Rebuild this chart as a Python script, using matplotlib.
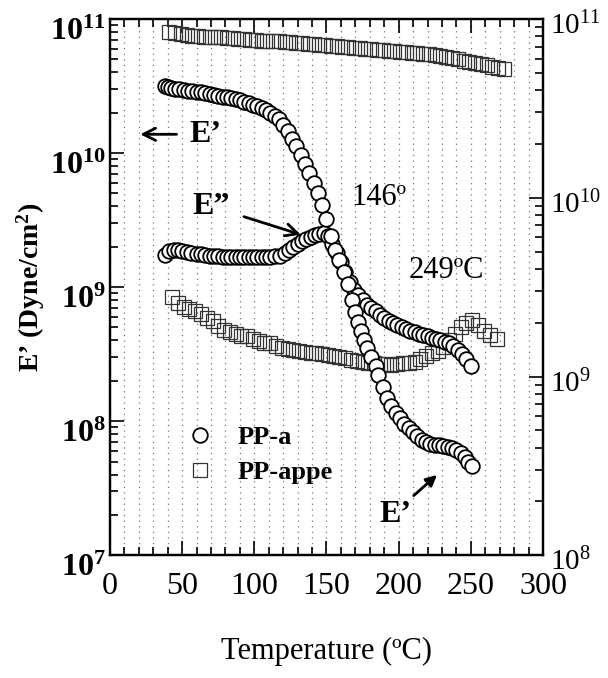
"""
Dynamic modulus E' / E'' vs temperature for PP-a and PP-appe (scanned figure remake).
"""
import math
import matplotlib
matplotlib.use("Agg")
import matplotlib.pyplot as plt
import matplotlib.lines as mlines
from matplotlib.ticker import LogLocator, FuncFormatter, MultipleLocator, NullFormatter
from matplotlib.transforms import ScaledTranslation

plt.rcParams["font.family"] = ["Liberation Serif", "DejaVu Serif"]
plt.rcParams["mathtext.fontset"] = "custom"
plt.rcParams["mathtext.rm"] = "Liberation Serif"
plt.rcParams["mathtext.bf"] = "Liberation Serif:bold"
plt.rcParams["mathtext.it"] = "Liberation Serif:italic"

# -- data -----------------------------------------------------------------------
ppa_e1_T = [38, 40, 42, 45, 48, 51, 54, 57, 60, 63, 66, 69, 72, 75, 78, 81, 84, 87,
            90, 93, 96, 99, 102, 105, 108, 111, 114, 117, 120, 123, 126, 129, 132,
            135, 138, 141, 144, 147, 150, 153, 156, 159, 162, 165, 168, 170, 172,
            174, 176, 178, 181, 184, 186, 189, 192, 195, 198, 201, 204, 207, 210,
            213, 216, 219, 222, 225, 228, 231, 234, 237, 240, 243, 246, 248, 251]
ppa_e1 = [3.15e10, 3.1e10, 3.05e10, 3.0e10, 2.98e10, 2.95e10, 2.92e10, 2.9e10,
          2.87e10, 2.83e10, 2.8e10, 2.76e10, 2.72e10, 2.68e10, 2.63e10, 2.6e10,
          2.56e10, 2.52e10, 2.47e10, 2.42e10, 2.37e10, 2.3e10, 2.24e10, 2.17e10,
          2.1e10, 2.0e10, 1.9e10, 1.78e10, 1.62e10, 1.45e10, 1.28e10, 1.12e10,
          9.6e9, 8.3e9, 7.1e9, 6.0e9, 5.0e9, 4.1e9, 3.2e9, 2.4e9, 1.9e9, 1.6e9,
          1.3e9, 1.05e9, 8.0e8, 6.5e8, 5.5e8, 4.7e8, 4.0e8, 3.5e8, 3.0e8, 2.6e8,
          2.2e8, 1.8e8, 1.5e8, 1.3e8, 1.15e8, 1.05e8, 9.6e7, 8.9e7, 8.3e7, 7.8e7,
          7.3e7, 7.0e7, 6.8e7, 6.7e7, 6.6e7, 6.5e7, 6.4e7, 6.3e7, 6.1e7, 5.8e7,
          5.4e7, 5.0e7, 4.6e7]

ppa_e2_T = [38, 41, 44, 47, 50, 53, 56, 60, 63, 66, 69, 72, 75, 78, 81, 84, 87, 90,
            93, 96, 99, 102, 105, 108, 111, 114, 118, 121, 124, 127, 130, 133, 136,
            139, 142, 145, 148, 151, 154, 157, 160, 163, 166, 169, 172, 175, 178,
            181, 184, 187, 190, 193, 196, 199, 202, 205, 208, 211, 214, 217, 220,
            223, 226, 229, 232, 235, 238, 241, 244, 247, 250]
ppa_e2 = [1.75e9, 1.85e9, 1.9e9, 1.88e9, 1.85e9, 1.82e9, 1.8e9, 1.78e9, 1.76e9,
          1.74e9, 1.72e9, 1.71e9, 1.7e9, 1.69e9, 1.68e9, 1.68e9, 1.67e9, 1.67e9,
          1.67e9, 1.67e9, 1.67e9, 1.67e9, 1.68e9, 1.68e9, 1.69e9, 1.7e9, 1.72e9,
          1.8e9, 1.9e9, 2.0e9, 2.1e9, 2.2e9, 2.3e9, 2.38e9, 2.45e9, 2.5e9, 2.55e9,
          2.4e9, 2.1e9, 1.8e9, 1.55e9, 1.3e9, 1.1e9, 9.6e8, 8.7e8, 8.0e8, 7.4e8,
          7.0e8, 6.6e8, 6.2e8, 5.9e8, 5.6e8, 5.4e8, 5.2e8, 5.0e8, 4.85e8, 4.7e8,
          4.6e8, 4.5e8, 4.4e8, 4.3e8, 4.2e8, 4.1e8, 4.0e8, 3.9e8, 3.8e8, 3.65e8,
          3.4e8, 3.15e8, 2.9e8, 2.6e8]

appe_e1_T = [41, 45, 49, 53, 57, 61, 65, 69, 73, 77, 81, 85, 89, 93, 97, 101, 105,
             109, 113, 117, 121, 125, 129, 133, 137, 141, 145, 149, 153, 157, 161,
             165, 169, 173, 177, 181, 185, 189, 193, 197, 201, 205, 209, 213, 217,
             221, 225, 229, 233, 237, 241, 245, 249, 253, 257, 261, 265, 269, 273]
appe_e1 = [8.0e10, 7.8e10, 7.7e10, 7.6e10, 7.5e10, 7.5e10, 7.4e10, 7.4e10, 7.3e10,
           7.3e10, 7.2e10, 7.2e10, 7.1e10, 7.1e10, 7.0e10, 7.0e10, 6.9e10, 6.9e10,
           6.8e10, 6.8e10, 6.7e10, 6.7e10, 6.6e10, 6.6e10, 6.5e10, 6.5e10, 6.4e10,
           6.4e10, 6.3e10, 6.3e10, 6.2e10, 6.2e10, 6.1e10, 6.1e10, 6.0e10, 6.0e10,
           5.9e10, 5.9e10, 5.8e10, 5.8e10, 5.7e10, 5.7e10, 5.6e10, 5.6e10, 5.5e10,
           5.5e10, 5.4e10, 5.3e10, 5.2e10, 5.1e10, 5.0e10, 4.9e10, 4.8e10, 4.7e10,
           4.6e10, 4.5e10, 4.4e10, 4.3e10, 4.2e10]

appe_e2_T = [43, 47, 51, 55, 59, 63, 67, 71, 75, 79, 83, 87, 91, 95, 99, 103, 107,
             111, 115, 119, 123, 127, 131, 135, 139, 143, 147, 151, 155, 159, 163,
             167, 171, 175, 179, 183, 187, 191, 195, 199, 203, 207, 211, 215, 219,
             223, 227, 231, 235, 239, 243, 247, 251, 255, 259, 263, 268]
appe_e2 = [8.5e8, 7.6e8, 7.1e8, 6.9e8, 6.6e8, 6.3e8, 5.9e8, 5.6e8, 5.1e8, 4.8e8,
           4.6e8, 4.45e8, 4.35e8, 4.3e8, 4.1e8, 3.95e8, 3.85e8, 3.8e8, 3.65e8,
           3.5e8, 3.45e8, 3.4e8, 3.35e8, 3.3e8, 3.2e8, 3.2e8, 3.15e8, 3.1e8, 3.05e8,
           3.0e8, 2.95e8, 2.85e8, 2.8e8, 2.75e8, 2.72e8, 2.7e8, 2.68e8, 2.65e8,
           2.62e8, 2.65e8, 2.7e8, 2.72e8, 2.78e8, 2.9e8, 3.05e8, 3.2e8, 3.35e8,
           3.6e8, 4.0e8, 4.5e8, 5.0e8, 5.4e8, 5.7e8, 5.2e8, 4.7e8, 4.4e8, 4.1e8]

# -- plot ----------------------------------------------------------------------
fig = plt.figure(figsize=(6.08, 6.78), dpi=100)
ax = fig.add_axes([0.181, 0.181, 0.712, 0.791])
ax.set_xlim(0, 300)
ax.set_yscale("log")
ax.set_ylim(1e7, 1e11)

circ = dict(marker="o", linestyle="None", markersize=10.5, markerfacecolor="white",
            markeredgecolor="black", markeredgewidth=1.3)
sq = dict(marker="s", linestyle="None", markersize=10, markerfacecolor="none",
          markeredgecolor="#333333", markeredgewidth=0.9)

ax.plot(appe_e1_T, appe_e1, zorder=3, **sq)
ax.plot(appe_e2_T, appe_e2, zorder=3, **sq)
ax.plot(ppa_e2_T, ppa_e2, zorder=4, **circ)
ax.plot(ppa_e1_T, ppa_e1, zorder=5, **circ)

# dotted vertical grid
ax.xaxis.set_major_locator(MultipleLocator(50))
ax.xaxis.set_minor_locator(MultipleLocator(10))
ax.grid(True, which="both", axis="x", linestyle=(0, (1, 3.5)), color="#777777", lw=0.9)
ax.set_axisbelow(True)

# ticks
ax.tick_params(which="both", direction="in", top=True, width=1.2)
ax.tick_params(which="major", length=10)
ax.tick_params(which="minor", length=6)
ax.tick_params(axis="x", labelsize=23, pad=12)
ax.tick_params(axis="y", labelsize=23, pad=3)
ax.yaxis.set_major_locator(LogLocator(base=10, numticks=10))
ax.yaxis.set_minor_locator(LogLocator(base=10, subs=range(2, 10), numticks=20))
ax.yaxis.set_minor_formatter(NullFormatter())
ax.yaxis.set_major_formatter(FuncFormatter(lambda v, p: r"$\mathbf{10^{%d}}$" % round(math.log10(v))))
for lab in ax.get_yticklabels():
    lab.set_transform(lab.get_transform() + ScaledTranslation(0, -7 / 72, fig.dpi_scale_trans))
for sp in ax.spines.values():
    sp.set_linewidth(1.6)

# right-hand axis
ax2 = ax.twinx()
ax2.set_yscale("log")
ax2.set_ylim(1e8, 1e11)
ax2.yaxis.set_major_locator(LogLocator(base=10, numticks=10))
ax2.yaxis.set_minor_locator(LogLocator(base=10, subs=range(2, 10), numticks=20))
ax2.yaxis.set_minor_formatter(NullFormatter())
ax2.yaxis.set_major_formatter(FuncFormatter(lambda v, p: r"$10^{%d}$" % round(math.log10(v))))
ax2.tick_params(which="both", direction="in", width=1.2, labelsize=21, pad=5)
ax2.tick_params(which="major", length=10)
ax2.tick_params(which="minor", length=6)
for lab in ax2.get_yticklabels():
    lab.set_transform(lab.get_transform() + ScaledTranslation(0, -3 / 72, fig.dpi_scale_trans))
for sp in ax2.spines.values():
    sp.set_linewidth(1.6)

ax.set_xlabel("Temperature (ºC)", fontsize=22, labelpad=26)
ax.set_ylabel("E’ (Dyne/cm$^{\\mathbf{2}}$)", fontsize=20, fontweight="bold", labelpad=2)

# annotations
ax.annotate("", xy=(19, 1.38e10), xytext=(48, 1.38e10),
            arrowprops=dict(arrowstyle="->", lw=2, mutation_scale=22, color="black"))
ax.text(55, 1.38e10, "E’", fontsize=23, fontweight="bold", va="center")
ax.text(57, 4.0e9, "E”", fontsize=23, fontweight="bold", va="center")
ax.annotate("", xy=(134, 2.43e9), xytext=(91, 3.4e9),
            arrowprops=dict(arrowstyle="->", lw=2, mutation_scale=22, color="black"))
ax.text(167, 4.7e9, "146º", fontsize=22, va="center")
ax.text(207, 1.32e9, "249ºC", fontsize=22, va="center")
ax.text(187, 2.0e7, "E’", fontsize=23, fontweight="bold", va="center")
ax.annotate("", xy=(228, 4.1e7), xytext=(209, 2.7e7),
            arrowprops=dict(arrowstyle="-|>", lw=2, mutation_scale=16, color="black"))

# legend
handles = [
    mlines.Line2D([], [], label="PP-a", **circ),
    mlines.Line2D([], [], label="PP-appe", **sq),
]
ax.legend(handles=handles, loc="upper left", bbox_to_anchor=(0.155, 0.262),
          frameon=False, borderaxespad=0, handlelength=0.9, handletextpad=1.0,
          labelspacing=0.45, prop=dict(family="Liberation Serif", weight="bold", size=19))

fig.savefig("out.png", dpi=100)
plt.close(fig)
